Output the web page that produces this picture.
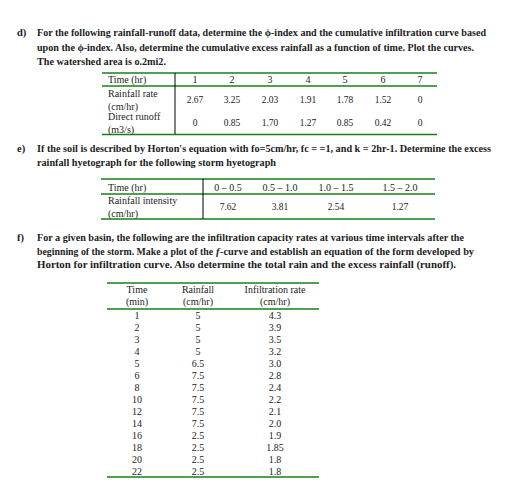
<!DOCTYPE html>
<html><head><meta charset="utf-8">
<script src="https://cdn.jsdelivr.net/npm/chart.js@4"></script>
<style>html,body{margin:0;background:#fff}svg{display:block}</style>
</head><body>
<svg id="s" width="506" height="494" xmlns="http://www.w3.org/2000/svg"></svg>
<script>
// Table d
const dTimes=["1","2","3","4","5","6","7"];
const dRain=["2.67","3.25","2.03","1.91","1.78","1.52","0"];
const dRunoff=["0","0.85","1.70","1.27","0.85","0.42","0"];
// Table e
const eTimes=["0 – 0.5","0.5 – 1.0","1.0 – 1.5","1.5 – 2.0"];
const eRain=["7.62","3.81","2.54","1.27"];
// Table f
const fTime=["1","2","3","4","5","6","8","10","12","14","16","18","20","22"];
const fRain=["5","5","5","5","6.5","7.5","7.5","7.5","7.5","7.5","2.5","2.5","2.5","2.5"];
const fInf=["4.3","3.9","3.5","3.2","3.0","2.8","2.4","2.2","2.1","2.0","1.9","1.85","1.8","1.8"];

const S=document.getElementById('s'),NS='http://www.w3.org/2000/svg';
const TXT='#1c1c1c',GR='#178017';
function t(x,y,str,o={}){const e=document.createElementNS(NS,'text');e.setAttribute('x',x);e.setAttribute('y',y);
 e.setAttribute('font-family','Liberation Serif, serif');e.setAttribute('font-size',o.size||10);e.setAttribute('fill',TXT);
 if(o.bold)e.setAttribute('font-weight','bold');if(o.italic)e.setAttribute('font-style','italic');if(o.anchor)e.setAttribute('text-anchor',o.anchor);
 if(o.len){e.setAttribute('textLength',o.len);e.setAttribute('lengthAdjust','spacingAndGlyphs');}
 e.textContent=str;S.appendChild(e);return e;}
function l(x1,y1,x2,y2,c,w){const e=document.createElementNS(NS,'line');e.setAttribute('x1',x1);e.setAttribute('y1',y1);e.setAttribute('x2',x2);e.setAttribute('y2',y2);e.setAttribute('stroke',c);e.setAttribute('stroke-width',w);S.appendChild(e);}
const P={size:10.5,bold:true};
// d
t(17,36,'d)',P);
t(37,36,'For the following rainfall-runoff data, determine the ϕ-index and the cumulative infiltration curve based',{...P,len:449});
t(37,51,'upon the ϕ-index. Also, determine the cumulative excess rainfall as a function of time. Plot the curves.',{...P,len:437});
t(37,65,'The watershed area is o.2mi2.',{...P,len:129});
l(102,73,437,73,GR,1.6);l(102,86,437,86,GR,1.6);l(102,134.5,437,134.5,GR,1.6);l(175,73,175,134,'#000',1);
t(108,83,'Time (hr)');t(108,97,'Rainfall rate');t(108,110,'(cm/hr)');t(108,120,'Direct runoff');t(108,133,'(m3/s)');
const dx=[195,232,270,308,345,383,420];
dTimes.forEach((v,i)=>t(dx[i],83,v,{anchor:'middle'}));
dRain.forEach((v,i)=>t(dx[i],103,v,{anchor:'middle',size:9.5}));
dRunoff.forEach((v,i)=>t(dx[i],126,v,{anchor:'middle',size:9.5}));
// e
t(17,152,'e)',P);
t(37,152,"If the soil is described by Horton's equation with fo=5cm/hr, fc = =1, and k = 2hr-1. Determine the excess",{...P,len:454});
t(37,166,'rainfall hyetograph for the following storm hyetograph',{...P,len:239});
l(101,179,435,179,GR,1.6);l(101,194,435,194,GR,1.6);l(101,219,435,219,GR,1.6);l(203,179,203,219,'#000',1);
t(108,191,'Time (hr)');t(108,204,'Rainfall intensity');t(108,217,'(cm/hr)');
const ex=[228,280,336,400];
eTimes.forEach((v,i)=>t(ex[i],191,v,{anchor:'middle'}));
eRain.forEach((v,i)=>t(ex[i],210,v,{anchor:'middle',size:9.5}));
// f
t(17,241,'f)',P);
t(37,241,'For a given basin, the following are the infiltration capacity rates at various time intervals after the',{...P,len:427});
t(37,255,'beginning of the storm. Make a plot of the',{...P,len:176});
t(216,255,'f',{...P,italic:true});
t(220,255,'-curve and establish an equation of the form developed by',{...P,len:254});
t(37,268,'Horton for infiltration curve. Also determine the total rain and the excess rainfall (runoff).',{...P,len:419});
l(107,283,319,283,GR,1.6);l(107,309,319,309,GR,1.6);l(107,477,319,477,GR,1.6);
const fx=[137,198,275];
t(fx[0],293,'Time',{anchor:'middle'});t(fx[0],305,'(min)',{anchor:'middle'});
t(fx[1],293,'Rainfall',{anchor:'middle'});t(fx[1],305,'(cm/hr)',{anchor:'middle'});
t(fx[2],293,'Infiltration rate',{anchor:'middle'});t(fx[2],305,'(cm/hr)',{anchor:'middle'});
fTime.forEach((v,i)=>{const y=319+12*i;t(fx[0],y,v,{anchor:'middle'});t(fx[1],y,fRain[i],{anchor:'middle'});t(fx[2],y,fInf[i],{anchor:'middle'});});
</script>
</body></html>
